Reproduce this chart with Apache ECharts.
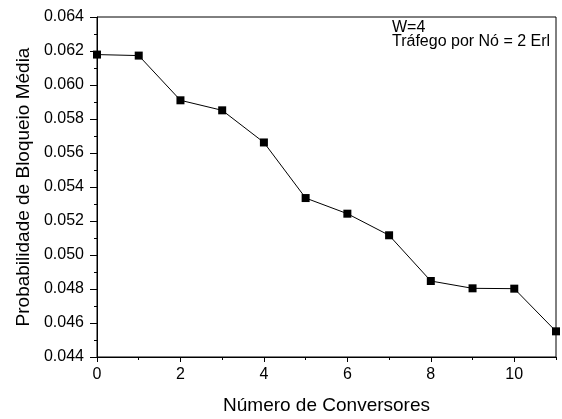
<!DOCTYPE html>
<html>
<head>
<meta charset="utf-8">
<script src="https://cdn.jsdelivr.net/npm/echarts@6/dist/echarts.min.js"></script>
<style>html,body{margin:0;padding:0;background:#fff}#c{width:562px;height:419px}</style>
</head>
<body>
<div id="c"></div>
<script>
var conversores = [0, 1, 2, 3, 4, 5, 6, 7, 8, 9, 10, 11];
var bloqueio = [0.06179, 0.06173, 0.05910, 0.05851, 0.05662, 0.05335, 0.05243, 0.05116, 0.04847, 0.04804, 0.04802, 0.04551];
var xTitle = 'Número de Conversores';
var yTitle = 'Probabilidade de Bloqueio Média';
var notes = ['W=4', 'Tráfego por Nó = 2 Erl'];

var font = 'Liberation Sans, Arial, Helvetica, sans-serif';
var chart = echarts.init(document.getElementById('c'), null, {renderer: 'canvas'});
var data = conversores.map(function (x, i) { return [x, bloqueio[i]]; });
chart.setOption({
  animation: false,
  grid: {left: 97, right: 6, top: 17, bottom: 62, containLabel: false, outerBoundsMode: 'none',
    show: true, borderColor: '#000', borderWidth: 1, backgroundColor: 'transparent'},
  xAxis: [{
    type: 'value', min: 0, max: 11, interval: 2, position: 'bottom',
    name: xTitle, nameLocation: 'middle', nameGap: 39,
    nameTextStyle: {fontFamily: font, fontSize: 19, color: '#000'},
    axisLine: {lineStyle: {color: '#000', width: 1}},
    axisTick: {show: true, length: 5, lineStyle: {color: '#000'}},
    axisLabel: {showMaxLabel: false, fontFamily: font, fontSize: 16, color: '#000', margin: 10},
    splitLine: {show: false}
  }, {
    type: 'value', min: 0, max: 11, interval: 1, position: 'bottom',
    axisLine: {show: false},
    axisTick: {show: true, length: 3, lineStyle: {color: '#000'}},
    axisLabel: {show: false},
    splitLine: {show: false}
  }],
  yAxis: {
    type: 'value', min: 0.044, max: 0.064, interval: 0.002,
    name: yTitle, nameLocation: 'middle', nameGap: 63,
    nameTextStyle: {fontFamily: font, fontSize: 19, color: '#000'},
    axisLine: {lineStyle: {color: '#000', width: 1}},
    axisTick: {show: true, length: 7, lineStyle: {color: '#000'}},
    minorTick: {show: true, splitNumber: 2, length: 3, lineStyle: {color: '#000'}},
    axisLabel: {fontFamily: font, fontSize: 16, color: '#000', margin: 13,
      formatter: function (v) { return v.toFixed(3); }},
    splitLine: {show: false}
  },
  series: [{
    type: 'line', xAxisIndex: 0, data: data,
    symbol: 'rect', symbolSize: 8, showSymbol: true,
    lineStyle: {color: '#000', width: 1},
    itemStyle: {color: '#000'},
    clip: false
  }],
  graphic: [
    {type: 'text', left: 392, top: 20, style: {text: notes[0], font: '16px ' + font, fill: '#000'}},
    {type: 'text', left: 392, top: 34, style: {text: notes[1], font: '16px ' + font, fill: '#000'}}
  ]
});
</script>
</body>
</html>
